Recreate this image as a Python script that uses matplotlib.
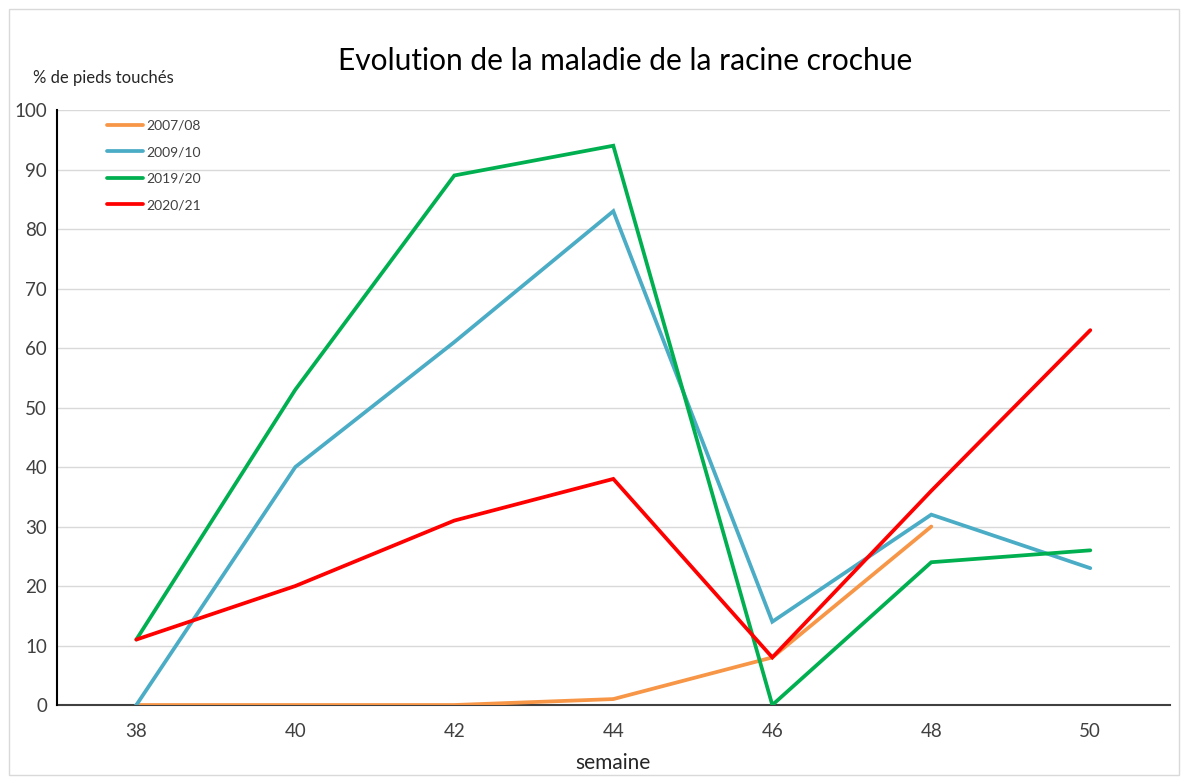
import matplotlib; matplotlib.use("Agg")
import matplotlib.pyplot as plt
from matplotlib.patches import Rectangle

plt.rcParams["font.family"] = ["Lato", "DejaVu Sans"]

weeks = [38, 40, 42, 44, 46, 48, 50]
s_0708 = [0, 0, 0, 1, 8, 30, None]
s_0910 = [0, 40, 61, 83, 14, 32, 23]
s_1920 = [11, 53, 89, 94, 0, 24, 26]
s_2021 = [11, 20, 31, 38, 8, 36, 63]

series = [
    ("2007/08", s_0708, "#F79646"),
    ("2009/10", s_0910, "#4BACC6"),
    ("2019/20", s_1920, "#00B050"),
    ("2020/21", s_2021, "#FF0000"),
]

fig = plt.figure(figsize=(11.84, 7.78), dpi=100, facecolor="white")
fig.patches.append(Rectangle((0.008, 0.004), 0.988, 0.984, transform=fig.transFigure,
                             fill=False, edgecolor="#D9D9D9", linewidth=1))
ax = fig.add_axes([0.048, 0.0938, 0.940, 0.7648])

for name, vals, col in series:
    xs = [w for w, v in zip(weeks, vals) if v is not None]
    ys = [v for v in vals if v is not None]
    ax.plot(xs, ys, color=col, lw=2.7, label=name, solid_capstyle="round",
            solid_joinstyle="miter", zorder=3)

ax.set_xlim(37, 51)
ax.set_ylim(0, 100)
ax.set_xticks(weeks)
ax.set_yticks(range(0, 101, 10))
ax.tick_params(length=0, labelsize=13.5, colors="#404040")
ax.tick_params(axis="x", pad=13)
ax.tick_params(axis="y", pad=7)
ax.grid(axis="y", color="#D9D9D9", lw=1, zorder=0)
for s in ["top", "right"]:
    ax.spines[s].set_visible(False)
ax.spines["left"].set_color("#000000")
ax.spines["left"].set_linewidth(1.5)
ax.spines["bottom"].set_color("#404040")
ax.spines["bottom"].set_linewidth(1.5)
ax.spines["left"].set_zorder(4)

ax.set_xlabel("semaine", fontsize=15, color="#262626", labelpad=9)
fig.text(0.028, 0.900, "% de pieds touchés", fontsize=12, color="#262626", va="center")
fig.text(0.528, 0.922, "Evolution de la maladie de la racine crochue", fontsize=21.5,
         color="#000000", ha="center", va="center")

ax.legend(loc="upper left", bbox_to_anchor=(0.034, 1.005), frameon=False,
          fontsize=10, handlelength=2.6, handletextpad=0.2, labelspacing=1.05,
          labelcolor="#404040")

fig.savefig("out.png", dpi=100, facecolor="white")
